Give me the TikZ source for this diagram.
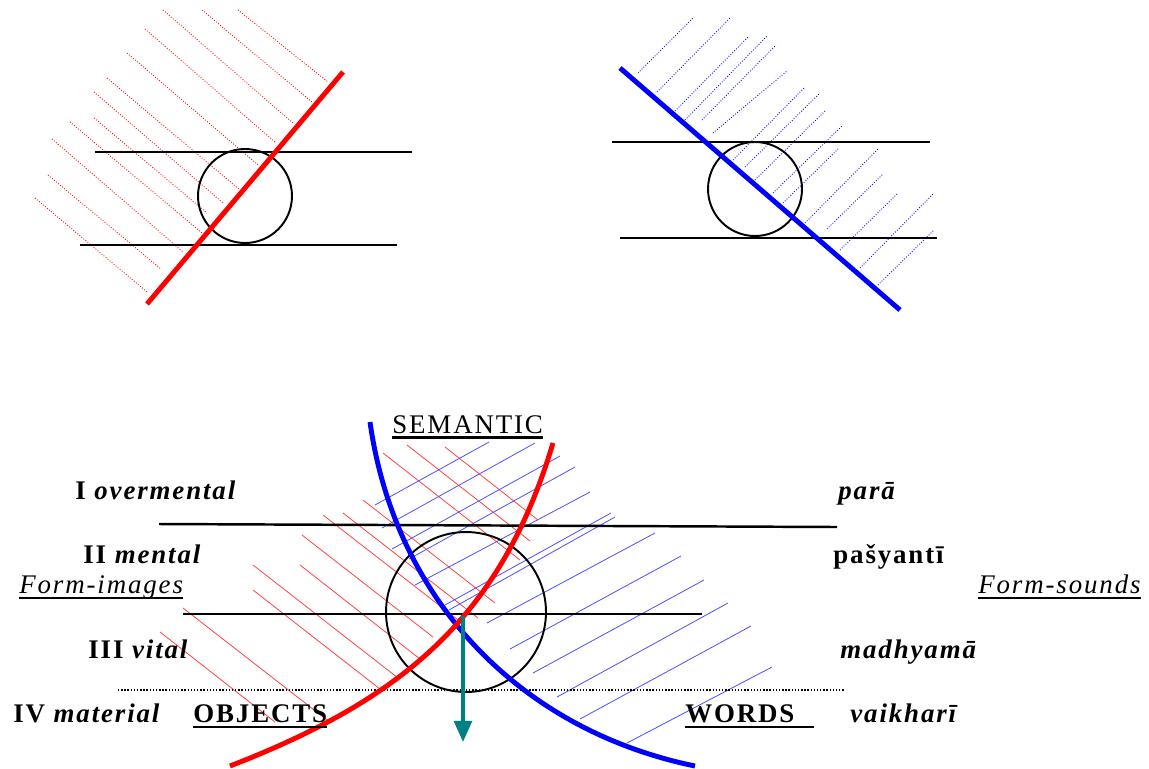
\documentclass[tikz,border=0pt]{standalone}
\usepackage{fontspec}
\setmainfont{Liberation Serif}[LetterSpace=7]
\usetikzlibrary{arrows.meta}

\begin{document}
\begin{tikzpicture}[x=0.02cm, y=-0.02cm,
  txt/.style={anchor=base west, inner sep=0pt, font=\fontsize{15.3}{18}\selectfont},
  lvl/.style={txt, font=\fontsize{15.3}{18}\selectfont\bfseries},
  axis/.style={line width=1.4pt},
  ring/.style={line width=1.1pt},
  redcut/.style={red, line width=2.8pt},
  bluecut/.style={blue, line width=2.8pt},
  rhatch/.style={red, line width=0.5pt, densely dotted},
  bhatch/.style={blue, line width=0.5pt, densely dotted},
  rthin/.style={red!75, line width=0.45pt},
  bthin/.style={blue!70, line width=0.45pt},
  uline/.style={line width=1.3pt}
]
  \useasboundingbox (0,0) rectangle (1149,768);

  % top left
  \foreach \xa/\ya/\xb/\yb in {238/10/328/82, 202/10/312/102, 163/10/293/123,
      145/29/275/142, 127/53/258/165, 107/78/240/190, 94/92/223/203,
      94/118/207/213, 70/122/202/233, 52/139/183/252, 48/175/161/269, 35/198/147/292}
    \draw[rhatch] (\xa,\ya) -- (\xb,\yb);
  \draw[axis] (95,152) -- (412,152);
  \draw[axis] (80,245) -- (397,245);
  \draw[ring] (245,196) circle[radius=0.94cm];
  \draw[redcut] (147,304) -- (343,72);

  % top right
  \foreach \xa/\ya/\xb/\yb in {638/73/694/17, 657/92/731/17, 675/111/749/36,
      685/120/767/36, 702/120/775/46, 713/133/787/71, 733/160/805/87,
      745/167/820/93, 755/180/825/111, 773/193/842/126, 783/203/838/149,
      805/223/878/149, 827/229/883/174, 840/250/897/194, 860/268/933/194, 878/285/933/231}
    \draw[bhatch] (\xa,\ya) -- (\xb,\yb);
  \draw[axis] (612,142) -- (930,142);
  \draw[axis] (620,238) -- (937,238);
  \draw[ring] (755,189) circle[radius=0.94cm];
  \draw[bluecut] (620,68) -- (900,310);

  % bottom
  \foreach \xa/\ya/\xb/\yb in {445/447/538/520, 407/445/530/541, 383/453/520/560,
      363/500/495/603, 343/513/478/618, 323/515/462/623, 302/535/433/637,
      300/565/420/659, 253/565/398/678, 253/590/380/689, 183/608/327/720, 160/632/275/722}
    \draw[rthin] (\xa,\ya) -- (\xb,\yb);
  \foreach \xa/\ya/\xb/\yb in {375/505/489/442, 382/528/535/443, 392/549/560/456,
      409/559/575/467, 415/585/590/492, 445/605/611/513, 449/610/615/517,
      487/623/655/533, 510/649/681/556, 533/673/704/580, 557/697/728/603,
      580/719/751/626, 627/743/772/667}
    \draw[bthin] (\xa,\ya) -- (\xb,\yb);
  \draw[axis] (159,524) -- (837,527);
  \draw[axis] (183,614) -- (702,614);
  \draw[line width=0.8pt, densely dotted] (118,690) -- (845,690);
  \draw[ring] (466,612) circle[radius=1.6cm];
  \draw[bluecut] (370,422) .. controls (395,600) and (520,730) .. (695,766);
  \draw[redcut] (553,443) .. controls (500,620) and (400,700) .. (230,766);
  \draw[teal, line width=2.3pt, -{Triangle[length=12pt, width=10pt]}] (463,616) -- (463,742);

  % labels
  \node[txt] (sem) at (392,433) {SEMANTIC};
  \draw[uline] ([yshift=-2.5pt]sem.base west) -- ([yshift=-2.5pt]sem.base east);
  \node[lvl] (lv1) at (75,499) {I \textit{overmental}};
  \node[lvl] (lv2) at (83,563) {II \textit{mental}};
  \node[lvl] (lv3) at (88,658) {III \textit{vital}};
  \node[lvl] (lv4) at (13,722) {IV \textit{material}};
  \node[txt, font=\fontsize{15.3}{18}\selectfont\itshape] (fim) at (19,593) {Form-images};
  \draw[line width=1pt] ([yshift=-3pt]fim.base west) -- ([yshift=-3pt]fim.base east);
  \node[txt, font=\fontsize{15.3}{18}\selectfont\itshape] (fso) at (978,593) {Form-sounds};
  \draw[line width=1pt] ([yshift=-3pt]fso.base west) -- ([yshift=-3pt]fso.base east);
  \node[lvl] (obj) at (193,722) {OBJECTS};
  \draw[uline] ([yshift=-2.8pt]obj.base west) -- ([yshift=-2.8pt]obj.base east);
  \node[lvl] (wrd) at (685,722) {WORDS};
  \draw[uline] ([yshift=-2.8pt]wrd.base west) -- ([yshift=-2.8pt,xshift=11pt]wrd.base east);
  \node[lvl, font=\fontsize{15.3}{18}\selectfont\bfseries\itshape] (sk1) at (838,499) {parā};
  \node[lvl] (sk2) at (833,563) {pašyantī};
  \node[lvl, font=\fontsize{15.3}{18}\selectfont\bfseries\itshape] (sk3) at (840,658) {madhyamā};
  \node[lvl, font=\fontsize{15.3}{18}\selectfont\bfseries\itshape] (sk4) at (850,722) {vaikharī};
\end{tikzpicture}
\end{document}
